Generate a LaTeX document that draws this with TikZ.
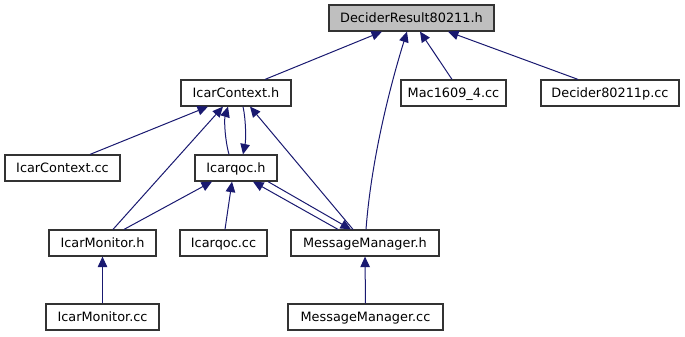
\documentclass[tikz,border=0pt]{standalone}
\usepackage{fontspec}
\setmainfont{DejaVu Sans}
\usetikzlibrary{arrows.meta}
\definecolor{edgeblue}{HTML}{191970}
\definecolor{rootfill}{HTML}{BFBFBF}
\begin{document}
\begin{tikzpicture}[x=1bp,y=-1bp,
  file/.style={draw=black!80, line width=1.2bp, fill=white, inner sep=0pt,
    minimum height=26bp, font=\fontsize{12.9}{15}\selectfont,
    text height=9.4bp, text depth=0pt},
  root/.style={file, fill=rootfill},
  dep/.style={draw=edgeblue, line width=1bp, -{Triangle[length=10.5bp,width=9.5bp]}}
]
\useasboundingbox (0,0) rectangle (685,336);

% files
\node[root, minimum width=165bp] (dr)   at (411.5,18)  {DeciderResult80211.h};
\node[file, minimum width=110bp] (ich)  at (236,93)    {IcarContext.h};
\node[file, minimum width=105bp] (mac)  at (453.5,93)  {Mac1609\_4.cc};
\node[file, minimum width=138bp] (dp)   at (610,93)    {Decider80211p.cc};
\node[file, minimum width=115bp] (iccc) at (62.5,168)  {IcarContext.cc};
\node[file, minimum width=82bp]  (iqh)  at (236,168)   {Icarqoc.h};
\node[file, minimum width=107bp] (imh)  at (102.5,243) {IcarMonitor.h};
\node[file, minimum width=87bp]  (iqcc) at (223.5,243) {Icarqoc.cc};
\node[file, minimum width=148bp] (mmh)  at (365,243)   {MessageManager.h};
\node[file, minimum width=113bp] (imcc) at (102.5,317) {IcarMonitor.cc};
\node[file, minimum width=155bp] (mmcc) at (365.5,317) {MessageManager.cc};

% include relations
\draw[dep] ([xshift=29bp]ich.north) -- ([xshift=-29.5bp]dr.south);
\draw[dep] ([xshift=1bp]mmh.north) .. controls (372,150) and (395,70) .. ([xshift=-4.5bp]dr.south);
\draw[dep] ([xshift=-1.5bp]mac.north) -- ([xshift=8.5bp]dr.south);
\draw[dep] ([xshift=-32bp]dp.north) -- ([xshift=36.5bp]dr.south);

\draw[dep] ([xshift=27.5bp]iccc.north) -- ([xshift=-28bp]ich.south);
\draw[dep] ([xshift=10.5bp]imh.north) -- ([xshift=-13bp]ich.south);
\draw[dep] ([xshift=-7bp]iqh.north) .. controls (225,140) and (224,120) .. ([xshift=-8bp]ich.south);
\draw[dep] ([xshift=7bp]ich.south) .. controls (246,120) and (246,140) .. ([xshift=7bp]iqh.north);
\draw[dep] ([xshift=-12bp]mmh.north) -- ([xshift=14bp]ich.south);

\draw[dep] ([xshift=21.5bp]imh.north) -- ([xshift=-24bp]iqh.south);
\draw[dep] ([xshift=1.5bp]iqcc.north) -- ([xshift=-4bp]iqh.south);
\draw[dep] ([xshift=-27bp]mmh.north) -- ([xshift=17bp]iqh.south);
\draw[dep] ([xshift=32bp]iqh.south) -- ([xshift=-14bp]mmh.north);

\draw[dep] (imcc.north) -- (imh.south);
\draw[dep] (mmcc.north) -- (mmh.south);
\end{tikzpicture}
\end{document}
